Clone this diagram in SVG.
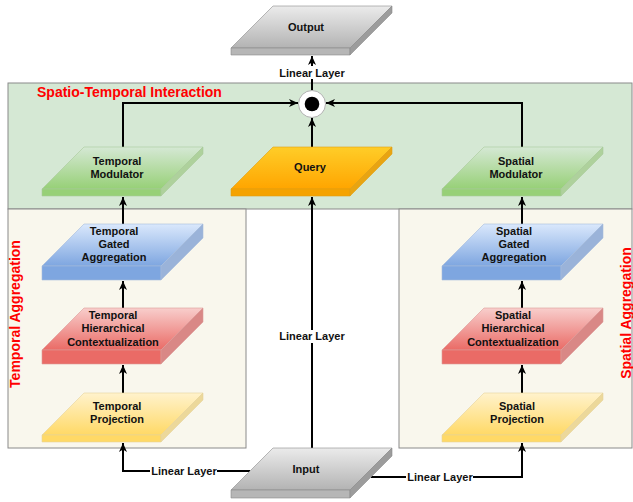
<svg xmlns="http://www.w3.org/2000/svg" width="633" height="502" viewBox="0 0 633 502">
<style>
text{font-family:"Liberation Sans",Arial,sans-serif;font-weight:bold;fill:#111;}
.lbl{font-size:11px;text-anchor:middle;}
.red{fill:#ff0000;font-size:14px;}
.edge{fill:none;stroke:#000;stroke-width:2;}
.bg{fill:#fff;}
.grayT{fill:url(#gGray);stroke:#8c8c8c;stroke-width:0.6;}
.grayF{fill:#b6b6b6;stroke:#8c8c8c;stroke-width:0.6;}
.grayS{fill:#9c9c9c;stroke:#8c8c8c;stroke-width:0.6;}
.grnT{fill:url(#gGrn);stroke:#a9c99b;stroke-width:0.6;}
.grnF{fill:#97d077;stroke:#a9c99b;stroke-width:0.6;}
.grnS{fill:#aed19c;stroke:#a9c99b;stroke-width:0.6;}
.orT{fill:url(#gOr);stroke:#e0a010;stroke-width:0.6;}
.orF{fill:#f5a300;stroke:#e0a010;stroke-width:0.6;}
.orS{fill:#e8a412;stroke:#e0a010;stroke-width:0.6;}
.bluT{fill:url(#gBlu);stroke:#a6bcdc;stroke-width:0.6;}
.bluF{fill:#7ea6e0;stroke:#a6bcdc;stroke-width:0.6;}
.bluS{fill:#9ab3d9;stroke:#a6bcdc;stroke-width:0.6;}
.redT{fill:url(#gRed);stroke:#dc9a98;stroke-width:0.6;}
.redF{fill:#ea6b66;stroke:#dc9a98;stroke-width:0.6;}
.redS{fill:#d98886;stroke:#dc9a98;stroke-width:0.6;}
.ylwT{fill:url(#gYlw);stroke:#e6d49c;stroke-width:0.6;}
.ylwF{fill:#ffd966;stroke:#e6d49c;stroke-width:0.6;}
.ylwS{fill:#ecd89a;stroke:#e6d49c;stroke-width:0.6;}
</style>
<defs>
<linearGradient id="gGray" x1="0" y1="0" x2="0" y2="1"><stop offset="0" stop-color="#ebebeb"/><stop offset="1" stop-color="#b3b3b3"/></linearGradient>
<linearGradient id="gGrn" x1="0" y1="0" x2="0" y2="1"><stop offset="0" stop-color="#d5e8d4"/><stop offset="1" stop-color="#97d077"/></linearGradient>
<linearGradient id="gOr" x1="0" y1="0" x2="0" y2="1"><stop offset="0" stop-color="#ffcd28"/><stop offset="1" stop-color="#ffa500"/></linearGradient>
<linearGradient id="gBlu" x1="0" y1="0" x2="0" y2="1"><stop offset="0" stop-color="#dae8fc"/><stop offset="1" stop-color="#7ea6e0"/></linearGradient>
<linearGradient id="gRed" x1="0" y1="0" x2="0" y2="1"><stop offset="0" stop-color="#f8cecc"/><stop offset="1" stop-color="#ea6b66"/></linearGradient>
<linearGradient id="gYlw" x1="0" y1="0" x2="0" y2="1"><stop offset="0" stop-color="#fff2cc"/><stop offset="1" stop-color="#ffd966"/></linearGradient>
<marker id="arr" markerUnits="userSpaceOnUse" markerWidth="10" markerHeight="10" viewBox="0 0 10 10" refX="9" refY="5" orient="auto">
<path d="M0,1 L9,5 L0,9 L2.5,5 Z" fill="#000"/>
</marker>
</defs>
<rect width="633" height="502" fill="#fff"/>

<g id="regions">
<rect id="region-interaction" x="8" y="83" width="624" height="126" fill="#d5e8d4" stroke="#8a8a8a" stroke-width="1"/>
<rect id="region-temporal" x="8" y="209" width="238" height="239" fill="#f9f7ed" stroke="#8a8a8a" stroke-width="1"/>
<rect id="region-spatial" x="399" y="209" width="233" height="239" fill="#f9f7ed" stroke="#8a8a8a" stroke-width="1"/>
<text class="red" x="37" y="97">Spatio-Temporal Interaction</text>
<text class="red" transform="translate(20,314) rotate(-90)" text-anchor="middle">Temporal Aggregation</text>
<text class="red" transform="translate(631,313) rotate(-90)" text-anchor="middle">Spatial Aggregation</text>
</g>

<g id="connectors">
<path class="edge" d="M123,147 V103 H298" marker-end="url(#arr)"/>
<path class="edge" d="M522,147 V103 H326" marker-end="url(#arr)"/>
<path class="edge" d="M312,147 V118" marker-end="url(#arr)"/>
<path class="edge" d="M312,90 V56" marker-end="url(#arr)"/>
<path class="edge" d="M312,448 V197" marker-end="url(#arr)"/>
<path class="edge" d="M250,471 H123 V443" marker-end="url(#arr)"/>
<path class="edge" d="M371,477 H522 V443" marker-end="url(#arr)"/>
<path class="edge" d="M123,393 V365" marker-end="url(#arr)"/>
<path class="edge" d="M123,308 V281" marker-end="url(#arr)"/>
<path class="edge" d="M123,224 V197" marker-end="url(#arr)"/>
<path class="edge" d="M522,393 V365" marker-end="url(#arr)"/>
<path class="edge" d="M522,308 V281" marker-end="url(#arr)"/>
<path class="edge" d="M522,224 V197" marker-end="url(#arr)"/>
<rect class="bg" x="277" y="66" width="70" height="13"/>
<text class="lbl" x="312" y="77">Linear Layer</text>
<rect class="bg" x="277" y="330" width="70" height="13"/>
<text class="lbl" x="312" y="340">Linear Layer</text>
<rect class="bg" x="150" y="465" width="67" height="13"/>
<text class="lbl" x="184" y="475">Linear Layer</text>
<rect class="bg" x="406" y="471" width="67" height="13"/>
<text class="lbl" x="440" y="481">Linear Layer</text>
</g>

<g id="op-hadamard">
<circle cx="312" cy="104" r="13.5" fill="#fff" stroke="#b0b0b0" stroke-width="1"/>
<circle cx="312" cy="104" r="7.3" fill="#000"/>
</g>

<g id="output">
<path class="grayT" d="M273,6 H392 L350,48 H231 Z"/>
<path class="grayF" d="M231,48 H350 V55 H231 Z"/>
<path class="grayS" d="M350,48 L392,6 V13 L350,55 Z"/>
<text class="lbl" x="306" y="31">Output</text>
</g>

<g id="temporal-modulator">
<path class="grnT" d="M84,147 H203 L161,189 H42 Z"/>
<path class="grnF" d="M42,189 H161 V196 H42 Z"/>
<path class="grnS" d="M161,189 L203,147 V154 L161,196 Z"/>
<text class="lbl" x="117" y="165">Temporal</text>
<text class="lbl" x="117" y="178">Modulator</text>
</g>

<g id="query">
<path class="orT" d="M273,147 H392 L350,189 H231 Z"/>
<path class="orF" d="M231,189 H350 V196 H231 Z"/>
<path class="orS" d="M350,189 L392,147 V154 L350,196 Z"/>
<text class="lbl" x="310" y="171">Query</text>
</g>

<g id="spatial-modulator">
<path class="grnT" d="M484,147 H603 L561,189 H442 Z"/>
<path class="grnF" d="M442,189 H561 V196 H442 Z"/>
<path class="grnS" d="M561,189 L603,147 V154 L561,196 Z"/>
<text class="lbl" x="516" y="165">Spatial</text>
<text class="lbl" x="516" y="178">Modulator</text>
</g>

<g id="temporal-gated-aggregation">
<path class="bluT" d="M84,224 H203 L161,266 H42 Z"/>
<path class="bluF" d="M42,266 H161 V280 H42 Z"/>
<path class="bluS" d="M161,266 L203,224 V238 L161,280 Z"/>
<text class="lbl" x="114" y="235">Temporal</text>
<text class="lbl" x="114" y="248">Gated</text>
<text class="lbl" x="114" y="261">Aggregation</text>
</g>

<g id="temporal-hierarchical-contextualization">
<path class="redT" d="M84,308 H203 L161,350 H42 Z"/>
<path class="redF" d="M42,350 H161 V364 H42 Z"/>
<path class="redS" d="M161,350 L203,308 V322 L161,364 Z"/>
<text class="lbl" x="113" y="319">Temporal</text>
<text class="lbl" x="113" y="332">Hierarchical</text>
<text class="lbl" x="113" y="345.5">Contextualization</text>
</g>

<g id="temporal-projection">
<path class="ylwT" d="M84,393 H203 L161,435 H42 Z"/>
<path class="ylwF" d="M42,435 H161 V442 H42 Z"/>
<path class="ylwS" d="M161,435 L203,393 V400 L161,442 Z"/>
<text class="lbl" x="117" y="410">Temporal</text>
<text class="lbl" x="117" y="423">Projection</text>
</g>

<g id="spatial-gated-aggregation">
<path class="bluT" d="M484,224 H603 L561,266 H442 Z"/>
<path class="bluF" d="M442,266 H561 V280 H442 Z"/>
<path class="bluS" d="M561,266 L603,224 V238 L561,280 Z"/>
<text class="lbl" x="514" y="235">Spatial</text>
<text class="lbl" x="514" y="248">Gated</text>
<text class="lbl" x="514" y="261">Aggregation</text>
</g>

<g id="spatial-hierarchical-contextualization">
<path class="redT" d="M484,308 H603 L561,350 H442 Z"/>
<path class="redF" d="M442,350 H561 V364 H442 Z"/>
<path class="redS" d="M561,350 L603,308 V322 L561,364 Z"/>
<text class="lbl" x="513" y="319">Spatial</text>
<text class="lbl" x="513" y="332">Hierarchical</text>
<text class="lbl" x="513" y="345.5">Contextualization</text>
</g>

<g id="spatial-projection">
<path class="ylwT" d="M484,393 H603 L561,435 H442 Z"/>
<path class="ylwF" d="M442,435 H561 V442 H442 Z"/>
<path class="ylwS" d="M561,435 L603,393 V400 L561,442 Z"/>
<text class="lbl" x="517" y="410">Spatial</text>
<text class="lbl" x="517" y="423">Projection</text>
</g>

<g id="input">
<path class="grayT" d="M273,448 H392 L350,490 H231 Z"/>
<path class="grayF" d="M231,490 H350 V498 H231 Z"/>
<path class="grayS" d="M350,490 L392,448 V456 L350,498 Z"/>
<text class="lbl" x="306" y="473">Input</text>
</g>
</svg>
